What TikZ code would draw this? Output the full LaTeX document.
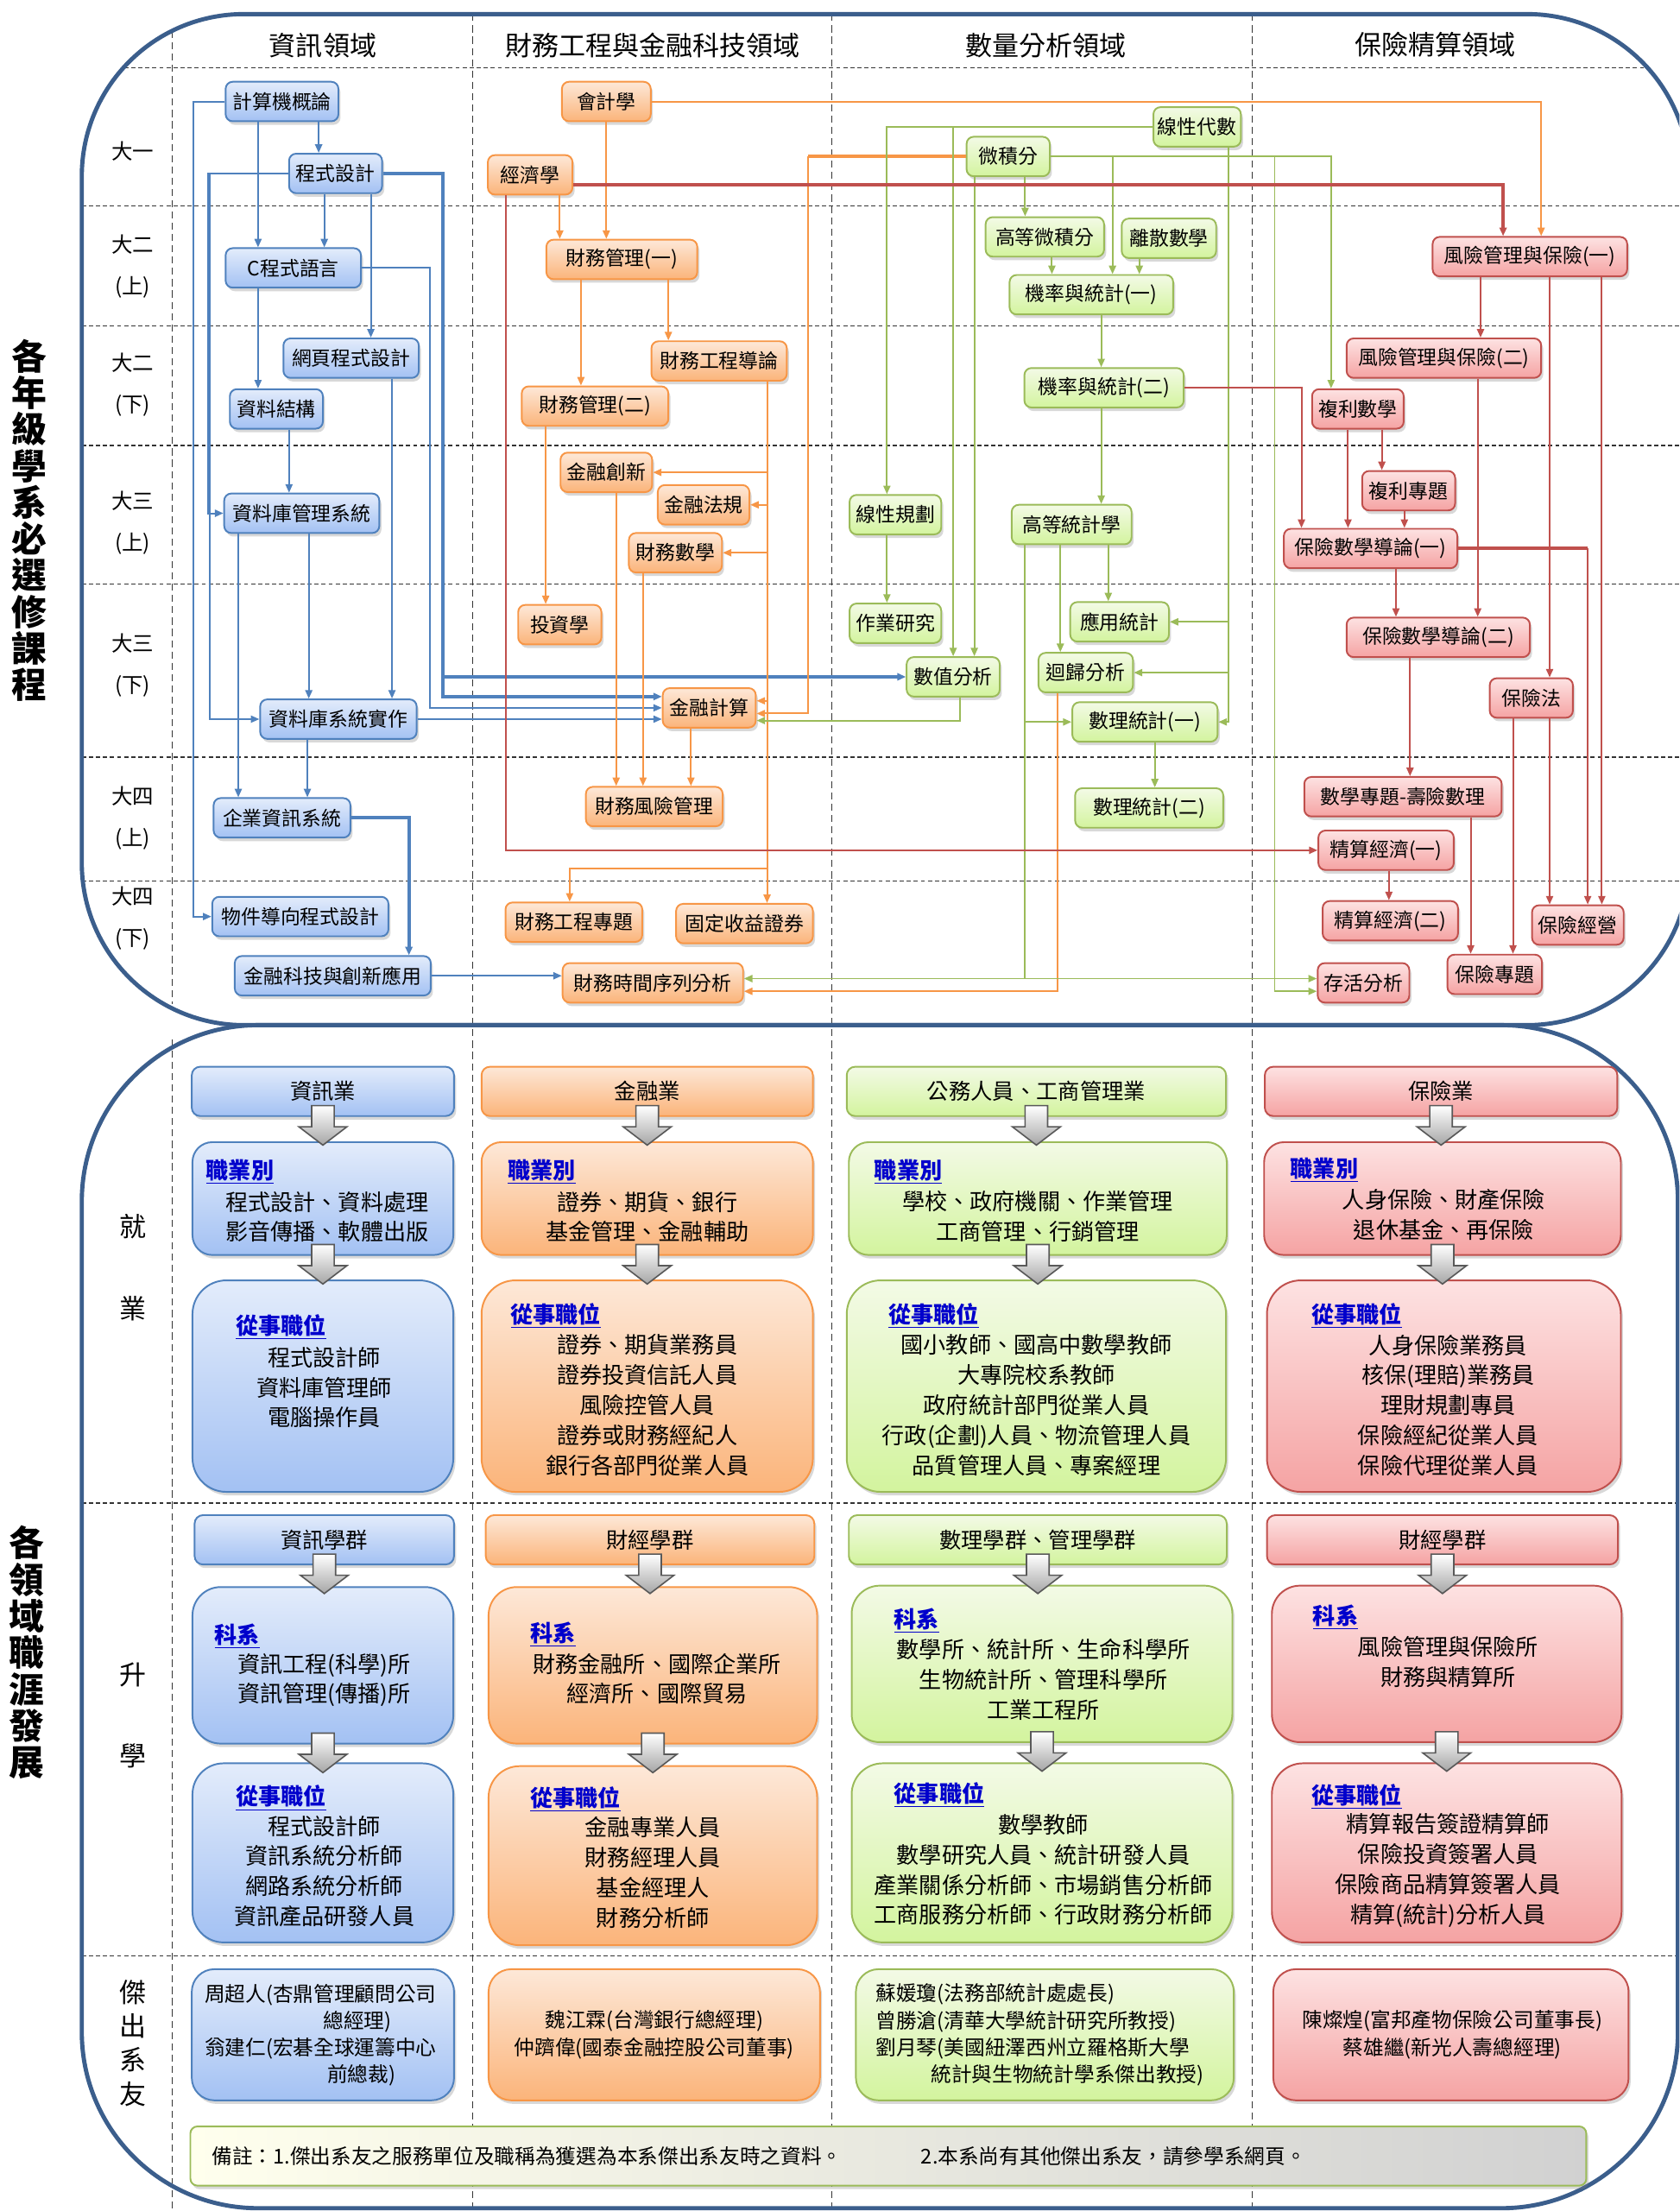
\documentclass[tikz,border=0pt]{standalone}
\usepackage{fontspec}
\setmainfont{Noto Sans CJK TC}
\usepackage{tikz}
\usetikzlibrary{arrows.meta}
\usetikzlibrary{shadows}

\definecolor{framec}{HTML}{3B5E8C}
\definecolor{infol}{HTML}{4F81BD}
\definecolor{infot}{HTML}{E3ECFB}
\definecolor{infob}{HTML}{A3C1F3}
\definecolor{finl}{HTML}{F79646}
\definecolor{fint}{HTML}{FDE8D8}
\definecolor{finb}{HTML}{FBB47A}
\definecolor{qntl}{HTML}{9BBB59}
\definecolor{qntt}{HTML}{F3FAE6}
\definecolor{qntb}{HTML}{D3F49E}
\definecolor{insl}{HTML}{C0504D}
\definecolor{inst}{HTML}{FDE2E2}
\definecolor{insb}{HTML}{F5A3A3}
\definecolor{ttlc}{HTML}{0000CC}

\tikzset{
  >={Triangle[length=6pt,width=5pt]},
  hdash/.style={dash pattern=on 3pt off 2pt, line width=.8pt, black!80},
  vdash/.style={dash pattern=on 5pt off 3pt, line width=.7pt, black!80},
  bigframe/.style={draw=framec, line width=3pt},
  box/.style={line width=1.2pt, inner sep=2pt,
    drop shadow={shadow xshift=1.5pt,shadow yshift=-2.5pt,opacity=.3}},
  course/.style={box, rounded corners=5pt, minimum height=28pt,
    font=\fontsize{14}{14}\selectfont},
  infoc/.style={draw=infol, top color=infot, bottom color=infob},
  finc/.style={draw=finl, top color=fint, bottom color=finb},
  qntc/.style={draw=qntl, top color=qntt, bottom color=qntb},
  insc/.style={draw=insl, top color=inst, bottom color=insb},
  bl/.style={draw=infol, line width=1.2pt},
  blt/.style={draw=infol, line width=2.4pt},
  fl/.style={draw=finl, line width=1.2pt},
  flt/.style={draw=finl, line width=2.4pt},
  gl/.style={draw=qntl, line width=1.2pt},
  rl/.style={draw=insl, line width=1.2pt},
  rlt/.style={draw=insl, line width=2.4pt},
  headtxt/.style={font=\fontsize{19}{19}\selectfont},
  rowtxt/.style={align=center, font=\fontsize{15}{29.5}\selectfont},
  sidetxt/.style={align=center, font=\fontsize{19}{24}\selectfont},
  bigtxt/.style={align=center, font=\fontsize{25}{25.9}\selectfont\bfseries},
  hdrb/.style={box, rounded corners=6pt, minimum height=35pt,
    font=\fontsize{15.5}{15.5}\selectfont},
  jobb/.style={box, rounded corners=14pt, minimum height=80pt},
  posb/.style={box, rounded corners=24pt, minimum height=150pt},
  depb/.style={box, rounded corners=20pt, minimum height=111pt},
  pstb/.style={box, rounded corners=22pt, minimum height=127pt},
  almb/.style={box, rounded corners=16pt, minimum height=93pt},
  ttl/.style={anchor=west, inner sep=0pt, text=ttlc,
    font=\fontsize{16}{16}\selectfont\bfseries},
  body/.style={align=center, inner sep=0pt, font=\fontsize{16}{21.3}\selectfont},
  alum/.style={align=left, inner sep=0pt, font=\fontsize{14.5}{19}\selectfont},
  alumc/.style={align=center, inner sep=0pt, font=\fontsize{14.5}{20}\selectfont},
  blk/.style={draw=black!65, line width=1pt, top color=white, bottom color=black!35},
  notec/.style={draw=qntl, left color=yellow!7, right color=black!18},
  notetxt/.style={anchor=west, inner sep=0pt, font=\fontsize{14.5}{14.5}\selectfont}
}

% gray block arrow below a box
\newcommand{\blkarrow}[1]{%
  \draw [blk] ([shift={(-8,-8)}]#1.south) -- ++(16,0) -- ++(0,15) -- ++(9,0)
    -- ++(-17,13) -- ++(-17,-13) -- ++(9,0) -- cycle;}

\begin{document}
\begin{tikzpicture}[x=1pt,y=-1pt]
    \useasboundingbox (0,0) rectangle (1191,1568);
    \clip (0,0) rectangle (1191,1568);
    \fill [white] (0,0) rectangle (1191,1568);

    % grid
    \foreach \y in {146,231,316,414,537,625,1066,1387}
      \draw [hdash] (58,\y)--(1191,\y);
    \draw [hdash] (88,48)--(1168,48);
    \draw [vdash] (122,22)--(122,712);
    \draw [vdash] (122,737)--(122,1568);
    \foreach \x in {335,590,888}
      \draw [vdash] (\x,10)--(\x,1568);

    % frames
    \draw [bigframe, rounded corners=115pt] (58,10) rectangle (1198,727);
    \draw [bigframe, rounded corners=125pt] (58,727) rectangle (1190,1566);

    % titles
    \node [headtxt] (h1) at (229,32) {資訊領域};
    \node [headtxt] (h2) at (463,32) {財務工程與金融科技領域};
    \node [headtxt] (h3) at (742,32) {數量分析領域};
    \node [headtxt] (h4) at (1018,32) {保險精算領域};
    \node [bigtxt] (sidea) at (21,369) {各\\年\\級\\學\\系\\必\\選\\修\\課\\程};
    \node [bigtxt] (sideb) at (19,1172) {各\\領\\域\\職\\涯\\發\\展};
    \node [rowtxt] (r1) at (94,107) {大一};
    \node [rowtxt] (r2a) at (94,189) {大二\\(上)};
    \node [rowtxt] (r2b) at (94,273) {大二\\(下)};
    \node [rowtxt] (r3a) at (94,371) {大三\\(上)};
    \node [rowtxt] (r3b) at (94,472) {大三\\(下)};
    \node [rowtxt] (r4a) at (94,580) {大四\\(上)};
    \node [rowtxt] (r4b) at (94,651) {大四\\(下)};
    \node [sidetxt] (w1) at (94,870) {就};
    \node [sidetxt] (w2) at (94,928) {業};
    \node [sidetxt] (s1) at (94,1188) {升};
    \node [sidetxt] (s2) at (94,1245) {學};
    \node [sidetxt] (al) at (94,1449) {傑\\出\\系\\友};

    % 資訊領域
    \node [course, infoc, minimum width=80] (cs) at (200,72) {計算機概論};
    \node [course, infoc, minimum width=66] (prog) at (238,123) {程式設計};
    \node [course, infoc, minimum width=96] (clang) at (208,190) {C程式語言};
    \node [course, infoc, minimum width=96] (web) at (249,254) {網頁程式設計};
    \node [course, infoc, minimum width=66] (ds) at (196,290) {資料結構};
    \node [course, infoc, minimum width=110] (dbms) at (214,364) {資料庫管理系統};
    \node [course, infoc, minimum width=111] (dbimp) at (240,510) {資料庫系統實作};
    \node [course, infoc, minimum width=97] (eis) at (200,580) {企業資訊系統};
    \node [course, infoc, minimum width=125] (oop) at (213,650) {物件導向程式設計};
    \node [course, infoc, minimum width=139] (fintech) at (236,692) {金融科技與創新應用};

    % 財務工程與金融科技領域
    \node [course, finc, minimum width=63] (acc) at (430,72) {會計學};
    \node [course, finc, minimum width=60] (econ) at (376,124) {經濟學};
    \node [course, finc, minimum width=107] (fm1) at (441,184) {財務管理(一)};
    \node [course, finc, minimum width=96] (feintro) at (510,256) {財務工程導論};
    \node [course, finc, minimum width=104] (fm2) at (422,288) {財務管理(二)};
    \node [course, finc, minimum width=65] (finnov) at (430,335) {金融創新};
    \node [course, finc, minimum width=65] (freg) at (499,358) {金融法規};
    \node [course, finc, minimum width=66] (fmath) at (479,392) {財務數學};
    \node [course, finc, minimum width=59] (invest) at (397,443) {投資學};
    \node [course, finc, minimum width=66] (fcomp) at (503,502) {金融計算};
    \node [course, finc, minimum width=97] (frisk) at (464,572) {財務風險管理};
    \node [course, finc, minimum width=97] (feproj) at (407,654) {財務工程專題};
    \node [course, finc, minimum width=97] (fixinc) at (528,655) {固定收益證券};
    \node [course, finc, minimum width=128] (fts) at (463,697) {財務時間序列分析};

    % 數量分析領域
    \node [course, qntc, minimum width=62] (linalg) at (849,90) {線性代數};
    \node [course, qntc, minimum width=59] (calc) at (715,111) {微積分};
    \node [course, qntc, minimum width=84] (acalc) at (741,168) {高等微積分};
    \node [course, qntc, minimum width=67] (discr) at (829,169) {離散數學};
    \node [course, qntc, minimum width=116] (ps1) at (774,209) {機率與統計(一)};
    \node [course, qntc, minimum width=113] (ps2) at (783,275) {機率與統計(二)};
    \node [course, qntc, minimum width=65] (lp) at (635,365) {線性規劃};
    \node [course, qntc, minimum width=85] (astat) at (760,372) {高等統計學};
    \node [course, qntc, minimum width=65] (orr) at (635,442) {作業研究};
    \node [course, qntc, minimum width=70] (apstat) at (794,441) {應用統計};
    \node [course, qntc, minimum width=66] (numan) at (676,480) {數值分析};
    \node [course, qntc, minimum width=67] (regr) at (770,477) {迴歸分析};
    \node [course, qntc, minimum width=103] (ms1) at (812,512) {數理統計(一)};
    \node [course, qntc, minimum width=105] (ms2) at (815,573) {數理統計(二)};

    % 保險精算領域
    \node [course, insc, minimum width=138] (rmi1) at (1085,182) {風險管理與保險(一)};
    \node [course, insc, minimum width=138] (rmi2) at (1024,254) {風險管理與保險(二)};
    \node [course, insc, minimum width=65] (cint) at (963,290) {複利數學};
    \node [course, insc, minimum width=66] (cintp) at (999,348) {複利專題};
    \node [course, insc, minimum width=123] (im1) at (972,389) {保險數學導論(一)};
    \node [course, insc, minimum width=130] (im2) at (1020,452) {保險數學導論(二)};
    \node [course, insc, minimum width=59] (inslaw) at (1086,495) {保險法};
    \node [course, insc, minimum width=140] (lifemath) at (995,565) {數學專題-壽險數理};
    \node [course, insc, minimum width=96] (ae1) at (983,603) {精算經濟(一)};
    \node [course, insc, minimum width=96] (ae2) at (986,653) {精算經濟(二)};
    \node [course, insc, minimum width=65] (insmgmt) at (1119,656) {保險經營};
    \node [course, insc, minimum width=67] (insproj) at (1060,691) {保險專題};
    \node [course, insc, minimum width=65] (surv) at (967,697) {存活分析};

    % blue links
    \draw [->,bl] (cs.south -| 226,0)--(prog.north -| 226,0);
    \draw [->,bl] (cs.south -| 183,0)--(clang.north -| 183,0);
    \draw [->,bl] (cs.west)--++(-22,0) |- (oop.west);
    \draw [->,bl] (prog.south -| 230,0)--(clang.north -| 230,0);
    \draw [->,bl] (prog.south -| 263,0)--(web.north -| 263,0);
    \draw [->,bl] (prog.west)--++(-57,0) |- (dbms.west);
    \draw [->,bl] (prog.west -| 149,0) |- (dbimp.west);
    \draw [->,blt] (prog.east)--(prog.east -| 314,0) |- (numan.west);
    \draw [->,blt] (prog.east -| 314,0) |- (fcomp.west |- 0,494);
    \draw [->,bl] (clang.east)--(clang.east -| 305,0) |- (fcomp.west);
    \draw [->,bl] (clang.south -| 183,0)--(ds.north -| 183,0);
    \draw [->,bl] (web.south -| 278,0)--(dbimp.north -| 278,0);
    \draw [->,bl] (ds.south -| 205,0)--(dbms.north -| 205,0);
    \draw [->,bl] (dbms.south -| 219,0)--(dbimp.north -| 219,0);
    \draw [->,bl] (dbms.south -| 169,0)--(eis.north -| 169,0);
    \draw [->,bl] (dbimp.south -| 218,0)--(eis.north -| 218,0);
    \draw [->,bl] (dbimp.east)--(fcomp.west |- dbimp.east);
    \draw [->,blt] (eis.east) -| (fintech.north -| 290,0);
    \draw [->,bl] (fintech.east)--(fts.west |- fintech.east);

    % orange links
    \draw [->,fl] (acc.south)--(fm1.north -| acc.south);
    \draw [->,fl] (acc.east) -| (rmi1.north -| 1093,0);
    \draw [->,fl] (econ.south -| 397,0)--(fm1.north -| 397,0);
    \draw [->,fl] (fm1.south -| 412,0)--(fm2.north -| 412,0);
    \draw [->,fl] (fm1.south -| 474,0)--(feintro.north -| 474,0);
    \draw [->,fl] (feintro.south -| 544,0) |- (finnov.east);
    \draw [->,fl] (feintro.south -| 544,0) |- (freg.east);
    \draw [->,fl] (feintro.south -| 544,0) |- (fmath.east);
    \draw [->,fl] (feintro.south -| 544,0) |- (fcomp.east |- 0,497);
    \draw [->,fl] (feintro.south -| 544,0)--(fixinc.north -| 544,0);
    \draw [->,fl] (544,616) -| (feproj.north -| 404,0);
    \draw [->,fl] (fm2.south -| 387,0)--(invest.north -| 387,0);
    \draw [->,fl] (finnov.south -| 437,0)--(frisk.north -| 437,0);
    \draw [->,fl] (fmath.south -| 456,0)--(frisk.north -| 456,0);
    \draw [->,fl] (fcomp.south -| 490,0)--(frisk.north -| 490,0);
    \draw [flt] (calc.west)--(calc.west -| 573,0);
    \draw [->,fl] (calc.west -| 573,0) |- (fcomp.east |- 0,506);
    \draw [->,fl] (regr.south -| 750,0) |- (fts.east |- 0,703);

    % green links
    \draw [->,gl] (linalg.west) -| (lp.north -| 629,0);
    \draw [->,gl] (linalg.west -| 676,0)--(numan.north -| 676,0);
    \draw [->,gl] (linalg.south -| 871,0) |- (apstat.east);
    \draw [->,gl] (linalg.south -| 871,0) |- (regr.east);
    \draw [->,gl] (linalg.south -| 871,0) |- (ms1.east);
    \draw [->,gl] (calc.east) -| (cint.north -| 944,0);
    \draw [->,gl] (calc.east -| 789,0)--(ps1.north -| 789,0);
    \draw [->,gl] (calc.east -| 904,0) |- (surv.west |- 0,703);
    \draw [->,gl] (calc.south -| 727,0)--(acalc.north -| 727,0);
    \draw [->,gl] (calc.south -| 691,0)--(numan.north -| 691,0);
    \draw [->,gl] (acalc.south -| 746,0)--(ps1.north -| 746,0);
    \draw [->,gl] (discr.south -| 808,0)--(ps1.north -| 808,0);
    \draw [->,gl] (ps1.south -| 781,0)--(ps2.north -| 781,0);
    \draw [->,gl] (ps2.south -| 781,0)--(astat.north -| 781,0);
    \draw [->,gl] (lp.south -| 629,0)--(orr.north -| 629,0);
    \draw [->,gl] (astat.south -| 786,0)--(apstat.north -| 786,0);
    \draw [->,gl] (astat.south -| 752,0)--(regr.north -| 752,0);
    \draw [->,gl] (astat.south -| 727,0) |- (surv.west |- 0,694);
    \draw [->,gl] (astat.south -| 727,0) |- (fts.east |- 0,694);
    \draw [->,gl] (astat.south -| 727,0) |- (ms1.west);
    \draw [->,gl] (numan.south -| 681,0) |- (fcomp.east |- 0,511);
    \draw [->,gl] (ms1.south -| 819,0)--(ms2.north -| 819,0);

    % red links
    \draw [->,rl] (econ.south -| 359,0) |- (ae1.west);
    \draw [->,rlt] (econ.east |- 0,131) -| (rmi1.north -| 1066,0);
    \draw [->,rl] (ps2.east) -| (im1.north -| 923,0);
    \draw [->,rl] (rmi1.south -| 1050,0)--(rmi2.north -| 1050,0);
    \draw [->,rl] (rmi1.south -| 1099,0)--(inslaw.north -| 1099,0);
    \draw [->,rl] (rmi1.south -| 1136,0)--(insmgmt.north -| 1136,0);
    \draw [->,rl] (rmi2.south -| 1048,0)--(im2.north -| 1048,0);
    \draw [->,rl] (cint.south -| 956,0)--(im1.north -| 956,0);
    \draw [->,rl] (cint.south -| 980,0)--(cintp.north -| 980,0);
    \draw [->,rl] (cintp.south -| 996,0)--(im1.north -| 996,0);
    \draw [->,rl] (im1.south -| 990,0)--(im2.north -| 990,0);
    \draw [rlt] (im1.east)--(im1.east -| 1126,0);
    \draw [->,rl] (im1.east -| 1126,0)--(insmgmt.north -| 1126,0);
    \draw [->,rl] (im2.south -| 1000,0)--(lifemath.north -| 1000,0);
    \draw [->,rl] (inslaw.south -| 1073,0)--(insproj.north -| 1073,0);
    \draw [->,rl] (inslaw.south -| 1099,0)--(insmgmt.north -| 1099,0);
    \draw [->,rl] (lifemath.south -| 1043,0)--(insproj.north -| 1043,0);
    \draw [->,rl] (ae1.south -| 985,0)--(ae2.north -| 985,0);

    % careers: 資訊
    \node [hdrb, infoc, minimum width=186] (ihdr) at (229,774) {資訊業};
    \node [jobb, infoc, minimum width=185] (ijob) at (229,850) {};
    \node [ttl] (ijobt) at (146,831) {\underline{職業別}};
    \node [body] (ijobx) at (232,863) {程式設計、資料處理\\影音傳播、軟體出版};
    \node [posb, infoc, minimum width=185] (ipos) at (229,983) {};
    \node [ttl] (ipost) at (167,941) {\underline{從事職位}};
    \node [body] (iposx) at (230,984) {程式設計師\\資料庫管理師\\電腦操作員};
    \node [hdrb, infoc, minimum width=184] (igrp) at (230,1092) {資訊學群};
    \node [depb, infoc, minimum width=185] (idep) at (229,1181) {};
    \node [ttl] (idept) at (152,1160) {\underline{科系}};
    \node [body] (idepx) at (230,1191.5) {資訊工程(科學)所\\資訊管理(傳播)所};
    \node [pstb, infoc, minimum width=185] (ipst) at (229,1314) {};
    \node [ttl] (ipstt) at (167,1275) {\underline{從事職位}};
    \node [body] (ipstx) at (230,1327) {程式設計師\\資訊系統分析師\\網路系統分析師\\資訊產品研發人員};
    \node [almb, infoc, minimum width=186] (ialm) at (229,1443) {};
    \node [alum, anchor=west] (ialmx) at (145,1443) {周超人(杏鼎管理顧問公司\\\hspace*{5.8em}總經理)\\翁建仁(宏碁全球運籌中心\\\hspace*{6em}前總裁)};

    % careers: 金融
    \node [hdrb, finc, minimum width=235] (fhdr) at (459,774) {金融業};
    \node [jobb, finc, minimum width=235] (fjob) at (459,850) {};
    \node [ttl] (fjobt) at (360,831) {\underline{職業別}};
    \node [body] (fjobx) at (459,863) {證券、期貨、銀行\\基金管理、金融輔助};
    \node [posb, finc, minimum width=235] (fpos) at (459,983) {};
    \node [ttl] (fpost) at (362,933) {\underline{從事職位}};
    \node [body] (fposx) at (459,996.5) {證券、期貨業務員\\證券投資信託人員\\風險控管人員\\證券或財務經紀人\\銀行各部門從業人員};
    \node [hdrb, finc, minimum width=233] (fgrp) at (461,1092) {財經學群};
    \node [depb, finc, minimum width=233] (fdep) at (463,1181) {};
    \node [ttl] (fdept) at (376,1159) {\underline{科系}};
    \node [body] (fdepx) at (466,1190.5) {財務金融所、國際企業所\\經濟所、國際貿易};
    \node [pstb, finc, minimum width=233] (fpst) at (463,1316) {};
    \node [ttl] (fpstt) at (376,1276) {\underline{從事職位}};
    \node [body] (fpstx) at (463,1328) {金融專業人員\\財務經理人員\\基金經理人\\財務分析師};
    \node [almb, finc, minimum width=235] (falm) at (464,1443) {};
    \node [alumc] (falmx) at (464,1443) {魏江霖(台灣銀行總經理)\\仲躋偉(國泰金融控股公司董事)};

    % careers: 公務、工商
    \node [hdrb, qntc, minimum width=269] (qhdr) at (735,774) {公務人員、工商管理業};
    \node [jobb, qntc, minimum width=268] (qjob) at (736,850) {};
    \node [ttl] (qjobt) at (620,831) {\underline{職業別}};
    \node [body] (qjobx) at (736,862.5) {學校、政府機關、作業管理\\工商管理、行銷管理};
    \node [posb, qntc, minimum width=269] (qpos) at (735,983) {};
    \node [ttl] (qpost) at (630,933) {\underline{從事職位}};
    \node [body] (qposx) at (735,996.5) {國小教師、國高中數學教師\\大專院校系教師\\政府統計部門從業人員\\行政(企劃)人員、物流管理人員\\品質管理人員、專案經理};
    \node [hdrb, qntc, minimum width=268] (qgrp) at (736,1092) {數理學群、管理學群};
    \node [depb, qntc, minimum width=270] (qdep) at (739,1180) {};
    \node [ttl] (qdept) at (634,1149) {\underline{科系}};
    \node [body] (qdepx) at (740,1191) {數學所、統計所、生命科學所\\生物統計所、管理科學所\\工業工程所};
    \node [pstb, qntc, minimum width=270] (qpst) at (739,1314) {};
    \node [ttl] (qpstt) at (634,1273) {\underline{從事職位}};
    \node [body] (qpstx) at (740,1326) {數學教師\\數學研究人員、統計研發人員\\產業關係分析師、市場銷售分析師\\工商服務分析師、行政財務分析師};
    \node [almb, qntc, minimum width=268] (qalm) at (741,1443) {};
    \node [alum, anchor=west] (qalmx) at (621,1443) {蘇媛瓊(法務部統計處處長)\\曾勝滄(清華大學統計研究所教授)\\劉月琴(美國紐澤西州立羅格斯大學\\\hspace*{2.7em}統計與生物統計學系傑出教授)};

    % careers: 保險
    \node [hdrb, insc, minimum width=250] (shdr) at (1022,774) {保險業};
    \node [jobb, insc, minimum width=253] (sjob) at (1023,850) {};
    \node [ttl] (sjobt) at (915,830) {\underline{職業別}};
    \node [body] (sjobx) at (1024,861.5) {人身保險、財產保險\\退休基金、再保險};
    \node [posb, insc, minimum width=251] (spos) at (1024,983) {};
    \node [ttl] (spost) at (930,933) {\underline{從事職位}};
    \node [body] (sposx) at (1027,996.5) {人身保險業務員\\核保(理賠)業務員\\理財規劃專員\\保險經紀從業人員\\保險代理從業人員};
    \node [hdrb, insc, minimum width=249] (sgrp) at (1023,1092) {財經學群};
    \node [depb, insc, minimum width=248] (sdep) at (1026,1180) {};
    \node [ttl] (sdept) at (931,1147) {\underline{科系}};
    \node [body] (sdepx) at (1027,1178.5) {風險管理與保險所\\財務與精算所};
    \node [pstb, insc, minimum width=248] (spst) at (1026,1314) {};
    \node [ttl] (spstt) at (930,1274) {\underline{從事職位}};
    \node [body] (spstx) at (1027,1326.5) {精算報告簽證精算師\\保險投資簽署人員\\保險商品精算簽署人員\\精算(統計)分析人員};
    \node [almb, insc, minimum width=252] (salm) at (1029,1443) {};
    \node [alumc] (salmx) at (1030,1443) {陳燦煌(富邦產物保險公司董事長)\\蔡雄繼(新光人壽總經理)};

    % block arrows
    \foreach \b in {ihdr,ijob,igrp,idep,fhdr,fjob,fgrp,fdep,qhdr,qjob,qgrp,qdep,shdr,sjob,sgrp,sdep}
      {\blkarrow{\b}}

    % note
    \node [box, notec, rounded corners=5pt, minimum width=990, minimum height=42] (note) at (630,1529) {};
    \node [notetxt] (n1) at (150,1529) {備註：1.傑出系友之服務單位及職稱為獲選為本系傑出系友時之資料。};
    \node [notetxt] (n2) at (653,1529) {2.本系尚有其他傑出系友，請參學系網頁。};
\end{tikzpicture}
\end{document}
